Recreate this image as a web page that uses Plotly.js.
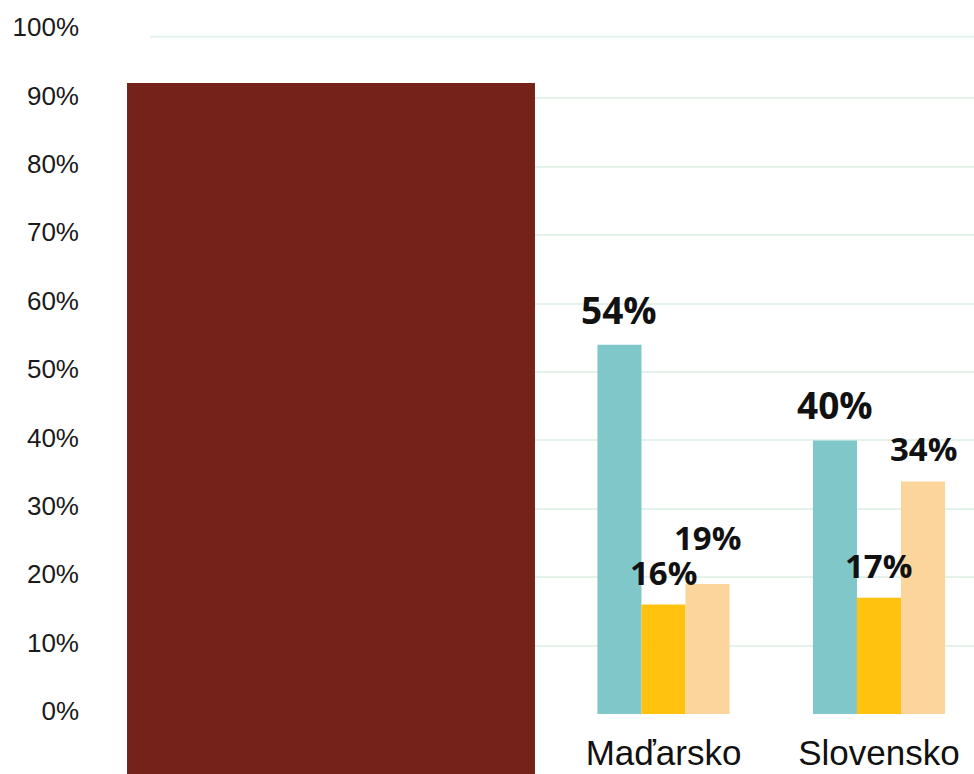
<!DOCTYPE html>
<html>
<head>
<meta charset="utf-8">
<script src="https://cdn.plot.ly/plotly-3.0.1.min.js"></script>
<style>html,body{margin:0;padding:0;background:#fff;}#chart{width:974px;height:774px;}</style>
</head>
<body>
<div id="chart"></div>
<script>
// ---- data ----
const categories = ['Maďarsko', 'Slovensko'];
const seriesA = [54, 40];   // teal
const seriesB = [16, 17];   // yellow
const seriesC = [19, 34];   // peach
const yTickVals = [0, 10, 20, 30, 40, 50, 60, 70, 80, 90, 100];
const yTickText = ['0%', '10%', '20%', '30%', '40%', '50%', '60%', '70%', '80%', '90%', '100%'];

// ---- style ----
const colors = ['#80c7c9', '#ffc20f', '#fbd59c'];
const labelSizes = [37, 33, 33];
const bargap = 0.387;
const gridColor = '#e4f2ea';
const allSeries = [seriesA, seriesB, seriesC];

const traces = allSeries.map((vals, i) => ({
  type: 'bar',
  x: categories,
  y: vals,
  marker: { color: colors[i], line: { width: 0 } },
  hoverinfo: 'skip',
  showlegend: false
}));

// value labels
const barW = (1 - bargap) / allSeries.length;
const annotations = [];
allSeries.forEach((vals, i) => {
  vals.forEach((v, j) => {
    let shift = 8;
    // raise the peach label where it would collide with the yellow one
    if (i === 2 && Math.abs(v - allSeries[1][j]) < 8) shift = 22;
    annotations.push({
      x: j + (i - 1) * barW,
      y: v,
      xref: 'x', yref: 'y',
      text: v + '%',
      showarrow: false,
      yanchor: 'bottom',
      xanchor: 'center',
      yshift: shift,
      font: { family: 'Open Sans, sans-serif', size: labelSizes[i], color: '#111', weight: 700 }
    });
  });
});

const layout = {
  width: 974, height: 774,
  margin: { l: 150, r: 0, t: 30, b: 60, pad: 0 },
  paper_bgcolor: '#ffffff',
  plot_bgcolor: '#ffffff',
  barmode: 'group',
  bargap: bargap,
  bargroupgap: 0,
  xaxis: {
    type: 'category',
    range: [-2.383, 1.441],
    showgrid: false, zeroline: false, showline: false,
    ticks: '',
    ticklabelstandoff: 15,
    tickfont: { family: 'Liberation Sans, Arial, sans-serif', size: 35, color: '#111' }
  },
  yaxis: {
    range: [0, 100],
    tickvals: yTickVals,
    ticktext: yTickText,
    showgrid: true,
    gridcolor: gridColor,
    gridwidth: 2,
    zeroline: false, showline: false,
    ticks: '',
    ticklabelstandoff: 70,
    ticklabelshift: -3,
    tickfont: { family: 'Liberation Sans, Arial, sans-serif', size: 26, color: '#1a1a1a' }
  },
  shapes: [
    {
      // top border line of the plot area, drawn slightly inside as in the original
      type: 'line', xref: 'paper', yref: 'y',
      x0: 0, x1: 1, y0: 99, y1: 99,
      line: { color: gridColor, width: 2 }, layer: 'below'
    },
    {
      type: 'rect', xref: 'paper', yref: 'paper',
      x0: -0.0279, x1: 0.4672, y0: -0.09, y1: 0.9225,
      fillcolor: '#74221a', line: { width: 0 }, layer: 'above'
    }
  ],
  annotations: annotations
};

Plotly.newPlot('chart', traces, layout, { staticPlot: true, displayModeBar: false });
</script>
</body>
</html>
